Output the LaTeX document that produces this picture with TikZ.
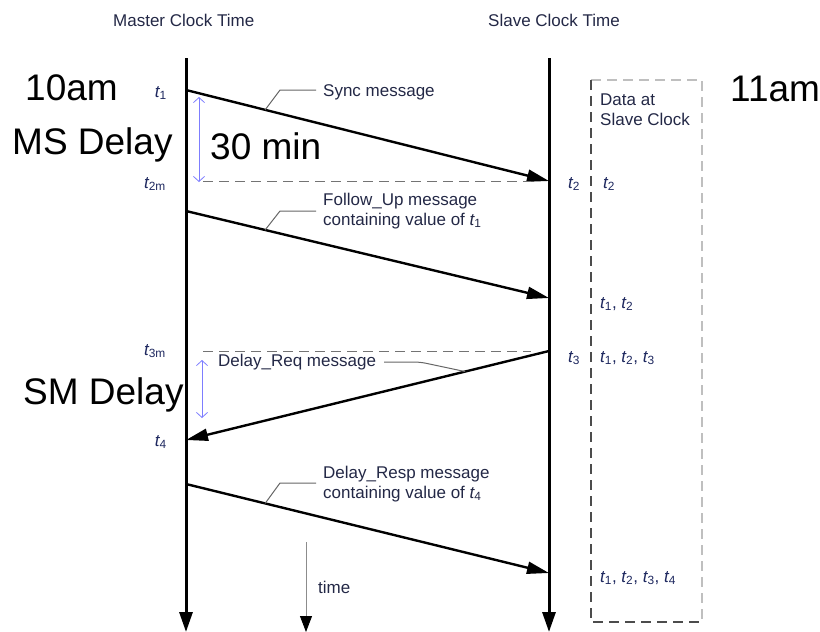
\documentclass[tikz,border=0pt]{standalone}
\usepackage{fontspec}
\setmainfont{Liberation Sans}
\usetikzlibrary{arrows.meta,calc}
\definecolor{inkdark}{RGB}{35,40,70}
\definecolor{tinted}{RGB}{30,40,95}
\definecolor{delayblue}{RGB}{125,125,255}
\def\tsub#1{{\itshape t}\textsubscript{#1}}
\tikzset{
	small/.style={font=\fontsize{17}{20}\selectfont, text=inkdark, inner sep=0pt, anchor=base west},
	big/.style={font=\fontsize{37}{44}\selectfont, inner sep=0pt, anchor=base west},
	tick/.style={font=\fontsize{17}{20}\selectfont, text=tinted, inner sep=0pt},
	clockline/.style={line width=3pt, -{Triangle[length=20pt,width=13pt]}},
	msg/.style={line width=2.4pt, -{Triangle[length=22pt,width=12pt]}},
	leader/.style={line width=1pt, color=black!60},
	guide/.style={line width=1pt, color=black!55, dash pattern=on 10pt off 6pt},
	span/.style={line width=0.8pt, color=delayblue, {Straight Barb[length=5pt,width=11pt]}-{Straight Barb[length=5pt,width=11pt]}},
	boxside/.style={line width=1.4pt, dash pattern=on 10pt off 6pt},
}

\begin{document}
\begin{tikzpicture}[x=1pt,y=-1pt]
			%%%%% START %%%%%
			\useasboundingbox (0,0) rectangle (820,632);
			
			% clock axes
			\coordinate (mtop) at (186,58);
			\coordinate (mbot) at (186,632);
			\coordinate (stop) at (549,58);
			\coordinate (sbot) at (549,632);
			\draw[clockline] (mtop) -- (mbot);
			\draw[clockline] (stop) -- (sbot);
			
			\node[small] (mhead) at (113,26) {Master Clock Time};
			\node[small] (shead) at (488,26) {Slave Clock Time};
			
			% message end points
			\coordinate (m1) at (186,90);
			\coordinate (s2) at (549,181);
			\coordinate (m2) at (186,211);
			\coordinate (s2b) at (549,298);
			\coordinate (s3) at (549,351);
			\coordinate (m4) at (186,440);
			\coordinate (m5) at (186,484);
			\coordinate (s4) at (549,573);
			
			\draw[msg] (m1) -- (s2);
			\draw[msg] (m2) -- (s2b);
			\draw[msg] (s3) -- (m4);
			\draw[msg] (m5) -- (s4);
			
			% dashed guides
			\draw[guide] (203,181) -- (531,181);
			\draw[guide] (203,351) -- (531,351);
			
			% delays
			\draw[span] (199,97) -- (199,182);
			\draw[span] (202,360) -- (202,418);
			
			% message labels
			\node[small] (sync) at (323,96) {Sync message};
			\draw[leader] ($(m1)!0.218!(s2)$) -- (280,90) -- (316,90);
			
			\node[small] (fu1) at (323,205) {Follow\_Up message};
			\node[small] (fu2) at (323,225) {containing value of \tsub{1}};
			\draw[leader] ($(m2)!0.218!(s2b)$) -- (280,211) -- (316,211);
			
			\node[small] (req) at (218,366) {Delay\_Req message};
			\draw[leader, rounded corners=6pt] ($(s3)!0.231!(m4)$) -- (420,362) -- ([xshift=8pt]req.east |- 0,362);
			
			\node[small] (rsp1) at (323,478) {Delay\_Resp message};
			\node[small] (rsp2) at (323,498) {containing value of \tsub{4}};
			\draw[leader] ($(m5)!0.218!(s4)$) -- (280,483) -- (316,483);
			
			% time marks
			\node[tick, anchor=east] (t1) at (167,93) {\tsub{1}};
			\node[tick, anchor=east] (t2m) at (166,184) {\tsub{2m}};
			\node[tick, anchor=east] (t3m) at (166,351) {\tsub{3m}};
			\node[tick, anchor=east] (t4) at (167,442) {\tsub{4}};
			\node[tick, anchor=west] (t2) at (568,184) {\tsub{2}};
			\node[tick, anchor=west] (t3) at (568,358) {\tsub{3}};
			
			% data box
			\coordinate (bnw) at (591,80);
			\coordinate (bse) at (702,622);
			\draw[boxside, color=black!25] (bnw) -- (bnw -| bse) -- (bse);
			\draw[boxside, color=black!70] (bnw) -- (bnw |- bse) -- (bse);
			\node[small] (data1) at (600,105) {Data at};
			\node[small] (data2) at (600,125) {Slave Clock};
			\node[tick, anchor=west] (d1) at (603,184) {\tsub{2}};
			\node[tick, anchor=west] (d2) at (600,304) {\tsub{1}, \tsub{2}};
			\node[tick, anchor=west] (d3) at (600,358) {\tsub{1}, \tsub{2}, \tsub{3}};
			\node[tick, anchor=west] (d4) at (600,578) {\tsub{1}, \tsub{2}, \tsub{3}, \tsub{4}};
			
			% time arrow
			\coordinate (ttop) at (306,542);
			\coordinate (tbot) at (306,632);
			\draw[line width=0.8pt, color=black!45, -{Triangle[length=16pt,width=12pt,color=black]}] (ttop) -- (tbot);
			\node[small] (time) at (318,593) {time};
			
			% clock readings
			\node[big] (ten) at (25,100) {10am};
			\node[big] (ms) at (12,154) {MS Delay};
			\node[big] (half) at (210,159) {30 min};
			\node[big] (sm) at (23,404) {SM Delay};
			\node[big] (eleven) at (730,101) {11am};
			
			%%%%% END %%%%%
\end{tikzpicture}
\end{document}
